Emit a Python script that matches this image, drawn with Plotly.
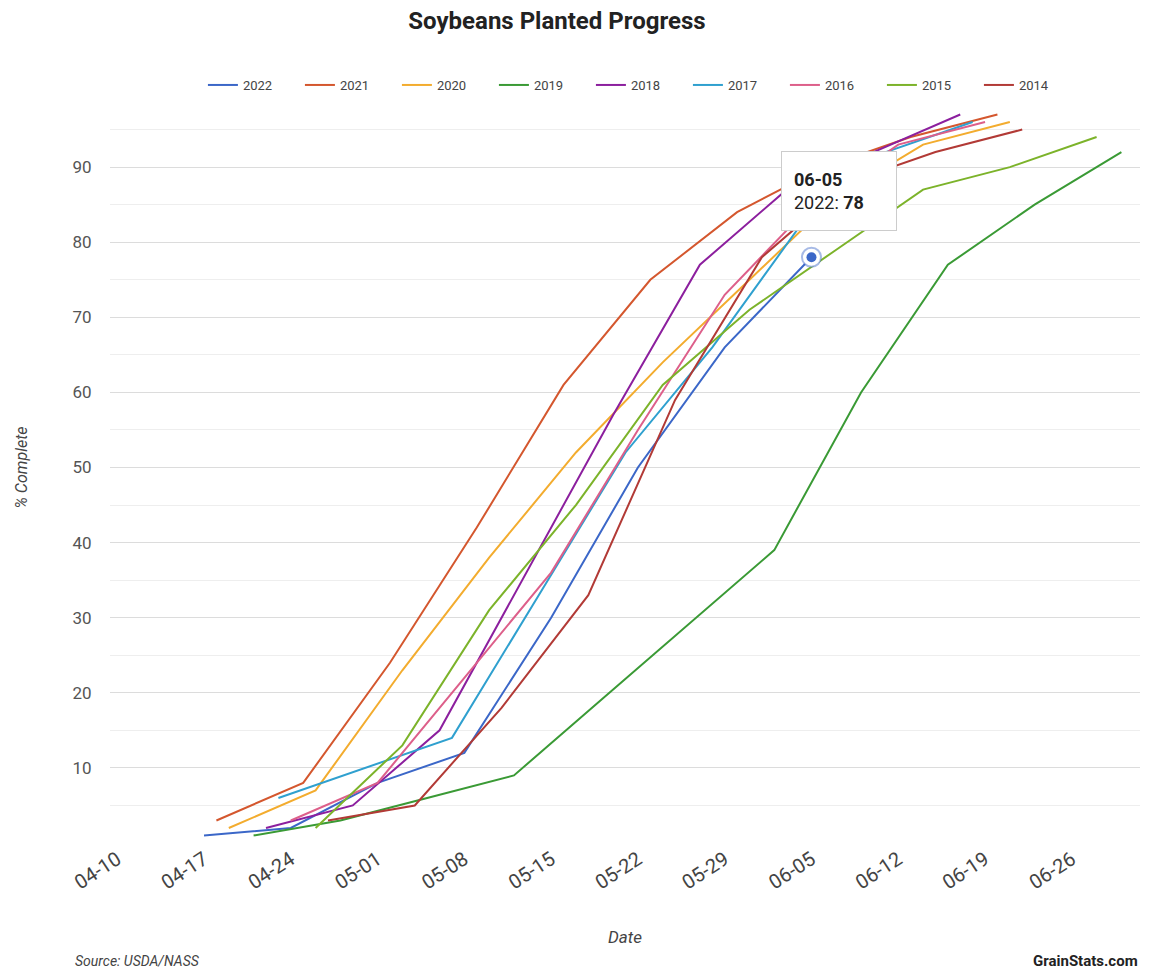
import plotly.graph_objects as go

# ---- data (week-ending dates MM-DD, % planted) ----
years = ["2022", "2021", "2020", "2019", "2018", "2017", "2016", "2015", "2014"]

dates_2022 = ["04-17", "04-24", "05-01", "05-08", "05-15", "05-22", "05-29", "06-05"]
pct_2022 = [1, 2, 8, 12, 30, 50, 66, 78]

dates_2021 = ["04-18", "04-25", "05-02", "05-09", "05-16", "05-23", "05-30", "06-06", "06-13", "06-20"]
pct_2021 = [3, 8, 24, 42, 61, 75, 84, 90, 94, 97]

dates_2020 = ["04-19", "04-26", "05-03", "05-10", "05-17", "05-24", "05-31", "06-07", "06-14", "06-21"]
pct_2020 = [2, 7, 23, 38, 52, 64, 75, 86, 93, 96]

dates_2019 = ["04-21", "04-28", "05-05", "05-12", "05-19", "05-26", "06-02", "06-09", "06-16", "06-23", "06-30"]
pct_2019 = [1, 3, 6, 9, 19, 29, 39, 60, 77, 85, 92]

dates_2018 = ["04-22", "04-29", "05-06", "05-13", "05-20", "05-27", "06-03", "06-10", "06-17"]
pct_2018 = [2, 5, 15, 36, 57, 77, 87, 92, 97]

dates_2017 = ["04-23", "04-30", "05-07", "05-14", "05-21", "05-28", "06-04", "06-11", "06-18"]
pct_2017 = [6, 10, 14, 33, 52, 66, 82, 92, 96]

dates_2016 = ["04-24", "05-01", "05-08", "05-15", "05-22", "05-29", "06-05", "06-12", "06-19"]
pct_2016 = [3, 8, 22, 36, 55, 73, 85, 93, 96]

dates_2015 = ["04-26", "05-03", "05-10", "05-17", "05-24", "05-31", "06-07", "06-14", "06-21", "06-28"]
pct_2015 = [2, 13, 31, 45, 61, 71, 79, 87, 90, 94]

dates_2014 = ["04-27", "05-04", "05-11", "05-18", "05-25", "06-01", "06-08", "06-15", "06-22"]
pct_2014 = [3, 5, 18, 33, 59, 78, 88, 92, 95]

x_ticks = ["04-10", "04-17", "04-24", "05-01", "05-08", "05-15",
           "05-22", "05-29", "06-05", "06-12", "06-19", "06-26"]
y_ticks = [10, 20, 30, 40, 50, 60, 70, 80, 90]

hover_date = "06-05"   # highlighted point of 2022

colors = {
    "2022": "#3b67c8", "2021": "#d4572e", "2020": "#f3ac2e", "2019": "#3a9a35",
    "2018": "#8c1f9e", "2017": "#2fa0cf", "2016": "#dd5f8a", "2015": "#7cb32a",
    "2014": "#b23a36",
}

series = {
    "2022": (dates_2022, pct_2022), "2021": (dates_2021, pct_2021),
    "2020": (dates_2020, pct_2020), "2019": (dates_2019, pct_2019),
    "2018": (dates_2018, pct_2018), "2017": (dates_2017, pct_2017),
    "2016": (dates_2016, pct_2016), "2015": (dates_2015, pct_2015),
    "2014": (dates_2014, pct_2014),
}

BASE = "2000-"  # dummy common year to plot month-day on one axis


def to_x(ds):
    return [BASE + d for d in ds]


fig = go.Figure()
for yr in years:
    ds, vs = series[yr]
    fig.add_trace(go.Scatter(
        x=to_x(ds), y=vs, mode="lines", name=yr,
        line=dict(color=colors[yr], width=2),
    ))

# highlighted point (2022 at hover_date)
idx = dates_2022.index(hover_date)
hx = to_x([dates_2022[idx]])
hy = [pct_2022[idx]]
fig.add_trace(go.Scatter(x=hx, y=hy, mode="markers", showlegend=False,
                         marker=dict(size=19, color="white",
                                     line=dict(color="rgba(59,103,200,0.45)", width=2))))
fig.add_trace(go.Scatter(x=hx, y=hy, mode="markers", showlegend=False,
                         marker=dict(size=10, color=colors["2022"],
                                     line=dict(color=colors["2022"], width=0))))

fig.add_annotation(
    x=hx[0], y=hy[0], xref="x", yref="y",
    text=f"<b>{hover_date}</b><br>2022: <b>{hy[0]}</b>",
    showarrow=False, xanchor="left", yanchor="bottom",
    xshift=-30, yshift=26, align="left",
    bgcolor="white", bordercolor="#cccccc", borderwidth=1, borderpad=12,
    width=90, height=54, font=dict(family="Roboto, Arial", size=18, color="#222222"),
)

fig.add_annotation(
    text="<i>Source: USDA/NASS</i>", xref="paper", yref="paper",
    x=-0.036, y=-0.157, xanchor="left", yanchor="middle", showarrow=False,
    font=dict(family="Roboto, Arial", size=14, color="#444444"),
)
fig.add_annotation(
    text="<b>GrainStats.com</b>", xref="paper", yref="paper",
    x=1.0, y=-0.157, xanchor="right", yanchor="middle", showarrow=False,
    font=dict(family="Roboto, Arial", size=15, color="#222222"),
)

fig.update_layout(
    width=1157, height=970,
    margin=dict(l=102, r=25, t=84, b=135, autoexpand=False),
    paper_bgcolor="white", plot_bgcolor="white",
    font=dict(family="Roboto, Arial", color="#444444"),
    title=dict(text="<b>Soybeans Planted Progress</b>", x=0.4745, xanchor="center",
               y=1 - 13 / 970, yanchor="middle",
               font=dict(family="Roboto, Arial", size=24, color="#222222")),
    legend=dict(orientation="h", x=0.514, xanchor="center",
                yref="container", y=1 - 77 / 970, yanchor="middle",
                font=dict(size=13, color="#444444"),
                entrywidth=52, entrywidthmode="pixels"),
    hovermode=False,
)

fig.update_xaxes(
    type="date", range=[BASE + "04-09 10:00", BASE + "07-01 12:00"],
    tickvals=to_x(x_ticks), ticktext=x_ticks, tickangle=-33,
    tickfont=dict(size=20, color="#444444"),
    showgrid=False, zeroline=False, showline=False, ticks="",
    title=dict(text="<i>Date</i>", font=dict(size=17, color="#444444"), standoff=38),
)
fig.update_yaxes(
    range=[0, 100], tickvals=y_ticks, ticks="outside", ticklen=14,
    tickcolor="rgba(0,0,0,0)",
    tickfont=dict(size=17, color="#555555"),
    showgrid=True, gridcolor="#dcdcdc", gridwidth=1, zeroline=False, showline=False,
    minor=dict(tickmode="array", tickvals=[5, 15, 25, 35, 45, 55, 65, 75, 85, 95],
               showgrid=True, gridcolor="#eeeeee", gridwidth=1),
    title=dict(text="<i>% Complete</i>", font=dict(size=16, color="#444444"), standoff=40),
)

fig.write_html("out.html")
